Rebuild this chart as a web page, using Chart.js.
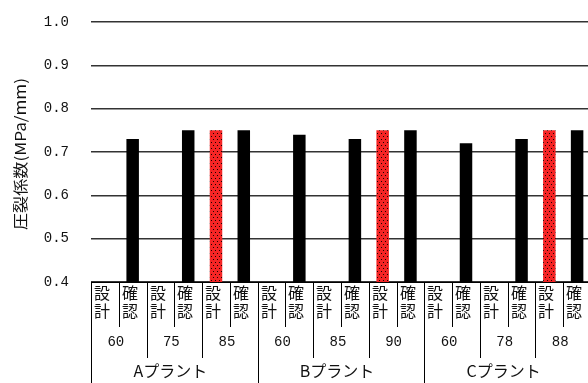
<!DOCTYPE html>
<html>
<head>
<meta charset="utf-8">
<script src="https://cdn.jsdelivr.net/npm/chart.js@4/dist/chart.umd.min.js"></script>
<style>
  html, body { margin: 0; padding: 0; background: #fff; overflow: hidden; }
  #wrap { width: 588px; height: 383px; overflow: hidden; position: relative; }
  canvas { display: block; }
</style>
</head>
<body>
<div id="wrap"><canvas id="c" width="600" height="383"></canvas></div>
<script>
// Plants, pipe-size groups and the two measurement kinds under each group
const plants = ['Aプラント', 'Bプラント', 'Cプラント'];
const groups = ['60', '75', '85', '60', '85', '90', '60', '78', '88'];
const subLabels = ['設計', '確認'];
// 圧裂係数 (MPa/mm): design value and confirmed value for each group
const designValues = [null, null, 0.75, null, null, 0.75, null, null, 0.75];
const checkValues  = [0.73, 0.75, 0.75, 0.74, 0.73, 0.75, 0.72, 0.73, 0.75];
const yTicks = [0.4, 0.5, 0.6, 0.7, 0.8, 0.9, 1.0];
const yTitle = '圧裂係数(MPa/mm)';

// One slot per (group, kind)
const labels = [];
const values = [];
groups.forEach((g, i) => {
  labels.push(g + subLabels[0]); values.push(designValues[i]);
  labels.push(g + subLabels[1]); values.push(checkValues[i]);
});

// Red dotted fill for the design bars
function dotPattern() {
  const p = document.createElement('canvas');
  p.width = 4; p.height = 6;
  const g = p.getContext('2d');
  g.fillStyle = '#f52525';
  g.fillRect(0, 0, 4, 6);
  g.fillStyle = '#1a0000';
  g.fillRect(1, 1, 1, 1);
  g.fillRect(3, 4, 1, 1);
  return g.createPattern(p, 'repeat');
}
const redDots = dotPattern();

const CJK = '"Noto Sans CJK JP", "Noto Sans", sans-serif';
const MONO = '"Liberation Mono", "DejaVu Sans Mono", monospace';

// Draws the rotated y-axis title and the three-row category table under the plot
const tablePlugin = {
  id: 'categoryTable',
  afterDraw(chart) {
    const ctx = chart.ctx;
    const xs = chart.scales.x;
    const area = chart.chartArea;
    const H = chart.height;
    const n = labels.length;
    const slotW = (area.right - area.left) / n;
    const top = area.bottom;

    ctx.save();
    // y-axis title, stretched along its length
    ctx.font = '15px ' + CJK;
    ctx.fillStyle = '#111';
    ctx.textAlign = 'center';
    ctx.textBaseline = 'middle';
    const tw = ctx.measureText(yTitle).width;
    ctx.save();
    ctx.translate(20, 154);
    ctx.rotate(-Math.PI / 2);
    ctx.scale(152 / tw, 1);
    ctx.fillText(yTitle, 0, 0);
    ctx.restore();

    // table top rule
    ctx.strokeStyle = '#000';
    ctx.lineWidth = 1;
    ctx.beginPath();
    ctx.moveTo(area.left, Math.round(top) + 0.5);
    ctx.lineTo(area.right, Math.round(top) + 0.5);
    ctx.stroke();

    for (let i = 0; i <= n; i++) {
      const xc = i < n ? xs.getPixelForValue(i) : xs.getPixelForValue(n - 1) + slotW;
      const xl = Math.round(xc - slotW / 2) + 0.5;
      let y2;
      if (i % 6 === 0) y2 = H;
      else if (i % 2 === 0) y2 = 358;
      else y2 = 327;
      ctx.beginPath();
      ctx.moveTo(xl, top);
      ctx.lineTo(xl, y2);
      ctx.stroke();
      if (i < n) {
        // stacked two-character label
        const word = subLabels[i % 2];
        ctx.font = '16px ' + CJK;
        ctx.textAlign = 'left';
        ctx.textBaseline = 'middle';
        ctx.fillStyle = '#111';
        ctx.fillText(word[0], xl + 2.5, top + 11);
        ctx.fillText(word[1], xl + 2.5, top + 29);
      }
    }

    // group labels
    ctx.font = '14px ' + MONO;
    ctx.textAlign = 'center';
    ctx.textBaseline = 'middle';
    groups.forEach((g, k) => {
      const xc = (xs.getPixelForValue(2 * k) + xs.getPixelForValue(2 * k + 1)) / 2;
      ctx.fillText(g, xc - 3, 342);
    });

    // plant labels
    ctx.font = '16px ' + CJK;
    plants.forEach((p, k) => {
      const xc = (xs.getPixelForValue(6 * k) + xs.getPixelForValue(6 * k + 5)) / 2;
      ctx.fillText(p, xc - 4, 371);
    });
    ctx.restore();
  }
};

new Chart(document.getElementById('c'), {
  type: 'bar',
  data: {
    labels: labels,
    datasets: [{
      data: values,
      backgroundColor: (c) => (c.dataIndex % 2 === 0 ? redDots : '#000'),
      borderWidth: 0,
      barPercentage: 0.45,
      categoryPercentage: 1.0
    }]
  },
  options: {
    responsive: false,
    animation: false,
    events: [],
    layout: { padding: { top: 22, right: 9, bottom: 101, left: 0 } },
    plugins: { legend: { display: false }, tooltip: { enabled: false } },
    scales: {
      x: { display: false, offset: true },
      y: {
        min: yTicks[0],
        max: yTicks[yTicks.length - 1],
        afterBuildTicks: (s) => { s.ticks = yTicks.map(v => ({ value: v })); },
        afterFit: (s) => { s.width = 91; s.paddingTop = 0; s.paddingBottom = 0; },
        border: { display: false },
        grid: { color: '#333', lineWidth: 1.4, drawTicks: false },
        ticks: {
          padding: 22,
          color: '#111',
          font: { family: MONO, size: 14 },
          callback: (v) => Number(v).toFixed(1)
        },
        title: { display: false }
      }
    }
  },
  plugins: [tablePlugin]
});
</script>
</body>
</html>
